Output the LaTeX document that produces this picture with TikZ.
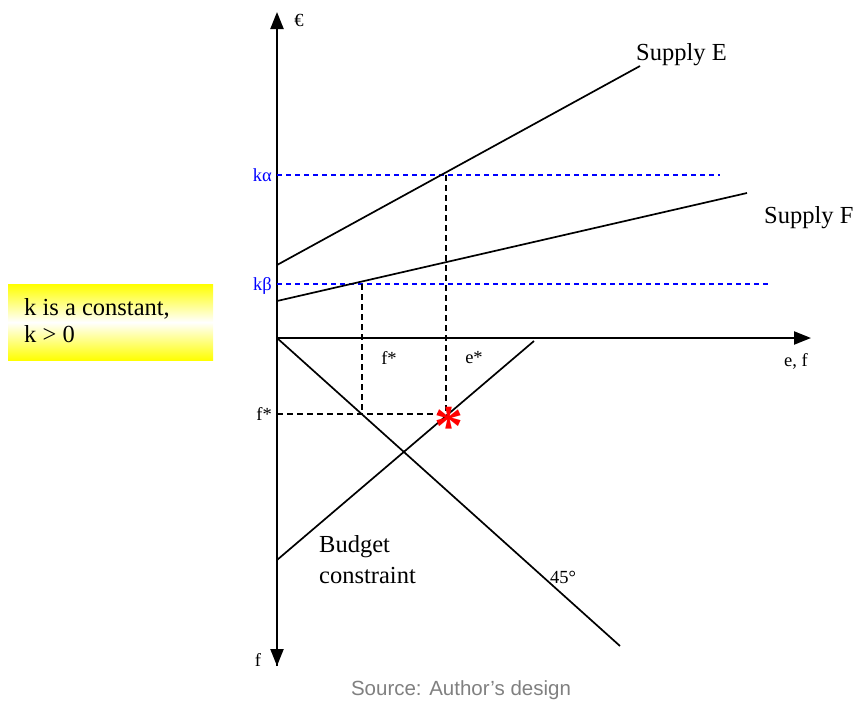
\documentclass[tikz,border=0pt]{standalone}
\usepackage{fontspec}
\setmainfont{Liberation Serif}
\newfontfamily\srcfont{Liberation Sans}
\usetikzlibrary{arrows.meta}
\begin{document}
\begin{tikzpicture}[x=1pt,y=-1pt,
  axis/.style={line width=2.2pt,-{Triangle[length=17pt,width=13pt]}},
  curve/.style={line width=1.7pt},
  guide/.style={line width=1.5pt,dash pattern=on 6pt off 4pt},
  blueguide/.style={line width=1.2pt,blue,dash pattern=on 5pt off 4pt},
  lbl/.style={font=\fontsize{18.5}{20}\selectfont,inner sep=0pt},
  bigl/.style={font=\fontsize{24.5}{31}\selectfont,inner sep=0pt}]
\useasboundingbox (0,0) rectangle (859,704);
% key points
\coordinate (O) at (277,338);
\coordinate (ytop) at (277,12);
\coordinate (ybot) at (277,666);
\coordinate (xend) at (811,338);
\coordinate (eS) at (277,265);
\coordinate (eE) at (640,66);
\coordinate (fS) at (277,301);
\coordinate (fE) at (747,193);
\coordinate (ka) at (277,175);
\coordinate (kaE) at (720,175);
\coordinate (kb) at (277,284);
\coordinate (kbE) at (768,284);
\coordinate (pF) at (362,284);
\coordinate (pE) at (446,175);
\coordinate (qF) at (362,414);
\coordinate (qE) at (446,414);
\coordinate (fs) at (277,414);
\coordinate (d45) at (620,646);
\coordinate (bS) at (277,560);
\coordinate (bE) at (534,341);
% yellow box
\node[minimum width=205pt,minimum height=76pt,inner sep=0pt,
  top color=yellow,bottom color=yellow,middle color=white,anchor=north west] (box) at (8,284) {};
\node[bigl,anchor=west] (t1) at (24,309) {k is a constant,};
\node[bigl,anchor=west] (t2) at (24,334) {k > 0};
% axes
\draw[axis] (ybot) -- (ytop);
\draw[axis] (O) -- (ybot);
\draw[axis] (O) -- (xend);
% blue guides
\draw[blueguide] (ka) -- (kaE);
\draw[blueguide] (kb) -- (kbE);
% dashed guides
\draw[guide] (pE) -- (qE);
\draw[guide] (pF) -- (qF);
\draw[guide] (fs) -- (qE);
% curves
\draw[curve] (eS) -- (eE);
\draw[curve] (fS) -- (fE);
\draw[curve] (O) -- (d45);
\draw[curve] (bS) -- (bE);
% labels
\node[lbl] (euro) at (299,20) {€};
\node[lbl,blue,anchor=east] (lka) at (272,175) {kα};
\node[lbl,blue,anchor=east] (lkb) at (272,286) {kβ};
\node[lbl] (lfs1) at (389,358) {f*};
\node[lbl] (les) at (474,358) {e*};
\node[lbl,anchor=east] (lfs2) at (272,414) {f*};
\node[lbl] (lef) at (796,361) {e, f};
\node[lbl] (lf) at (258,660) {f};
\node[lbl] (l45) at (563,577) {45°};
\node[bigl,anchor=west] (lse) at (636,55) {Supply E};
\node[bigl,anchor=west] (lsf) at (764,218) {Supply F};
\node[bigl,anchor=west,align=left] (lbc) at (319,560) {Budget\\constraint};
\node[inner sep=0pt,red,font=\fontsize{58}{58}\selectfont\bfseries] (star) at (449,426) {*};
\node[inner sep=0pt,gray,font=\srcfont\fontsize{20.5}{24}\selectfont] (src) at (461,690) {Source: Author’s design};
\end{tikzpicture}
\end{document}
